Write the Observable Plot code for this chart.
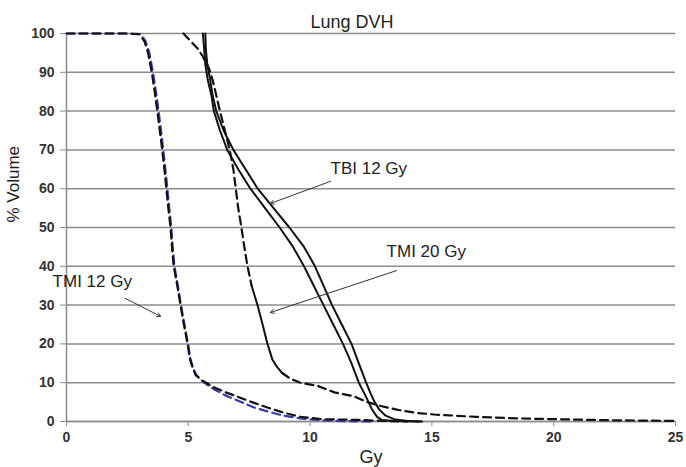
<!DOCTYPE html>
<html>
<head>
<meta charset="utf-8">
<script src="https://cdn.jsdelivr.net/npm/d3@7"></script>
<script src="https://cdn.jsdelivr.net/npm/@observablehq/plot@0.6"></script>
<style>
  html, body { margin: 0; padding: 0; background: #fff; }
  #chart svg { display: block; }
</style>
</head>
<body>
<div id="chart"></div>
<script>
// Dose (Gy) vs % volume
const tbiA = [[5.6,100],[5.65,96],[5.7,92],[5.8,88],[5.95,84],[6.05,80],[6.3,75],[6.6,70],[7.05,65],[7.55,60],[8.15,55],[8.75,50],[9.3,45],[9.75,40],[10.15,35],[10.55,30],[10.95,25],[11.35,20],[11.7,15],[12.0,10],[12.25,7],[12.4,5],[12.55,3],[12.75,1.2],[12.95,0.4],[13.5,0.1],[14.5,0]];
const tbiB = [[5.7,100],[5.72,96],[5.78,92],[5.9,88],[6.0,84],[6.15,80],[6.45,75],[6.85,70],[7.35,65],[7.85,60],[8.5,55],[9.15,50],[9.75,45],[10.2,40],[10.55,35],[10.9,30],[11.3,25],[11.7,20],[12.0,15],[12.3,10],[12.5,7],[12.65,5],[12.85,3],[13.1,1.5],[13.5,0.5],[14.0,0.15],[14.6,0]];
const tmi20Top = [[4.8,100],[5.1,98],[5.4,96],[5.6,94],[5.85,91],[6.0,88],[6.15,84],[6.3,80],[6.5,75],[6.7,70],[6.85,65],[6.95,60],[7.05,55],[7.18,50],[7.3,45],[7.43,40],[7.6,35]];
const tmi20Mid = [[7.6,35],[7.84,30],[8.05,25],[8.25,20],[8.45,16],[8.65,14],[8.85,12.5]];
const tmi20Tail = [[8.85,12.5],[9.2,11],[9.6,10],[10.3,9.2],[11.0,7.5],[11.8,6.5],[12.35,5],[12.9,4],[13.6,3],[14.4,2.2],[15.1,1.8],[16.8,1.2],[18.5,0.8],[20,0.6],[22.5,0.3],[25,0.15]];
const tmi12Black = [[0,100],[2.5,100],[3.0,99.8],[3.2,98],[3.35,95],[3.5,90],[3.62,85],[3.73,80],[3.83,75],[3.93,70],[4.02,65],[4.1,60],[4.18,55],[4.27,50],[4.33,45],[4.4,40],[4.55,35],[4.68,30],[4.82,25],[4.97,20],[5.07,16],[5.17,14],[5.3,12],[5.58,10.5],[6.0,9],[6.5,7.6],[7.1,6.2],[7.7,4.8],[8.25,3.6],[8.9,2.3],[9.6,1.2],[10.5,0.6],[12.0,0.4],[13.2,0.1],[14.0,0]];
const tmi12Blue = [[0,100],[2.5,100],[3.05,99.8],[3.25,98],[3.4,95],[3.55,90],[3.67,85],[3.78,80],[3.88,75],[3.97,70],[4.06,65],[4.14,60],[4.22,55],[4.3,50],[4.36,45],[4.43,40],[4.57,35],[4.7,30],[4.84,25],[4.99,20],[5.09,16],[5.19,14],[5.32,12],[5.6,10.3],[6.0,8.5],[6.5,6.8],[7.1,5.2],[7.7,3.6],[8.25,2.6],[8.9,1.5],[9.6,0.8],[10.5,0.3],[11.5,0.1],[12.5,0]];

const xTicks = [0, 5, 10, 15, 20, 25];
const yTicks = [0, 10, 20, 30, 40, 50, 60, 70, 80, 90, 100];

const title = "Lung DVH";
const xLabel = "Gy";
const yLabel = "% Volume";

// annotations
const labels = ["TBI 12 Gy", "TMI 20 Gy", "TMI 12 Gy"];
const labelPos = [[10.84, 65.1], [13.14, 43.8], [-0.57, 36.0]];
const arrows = [[10.84, 61.9, 8.37, 56.2], [13.55, 38.9, 8.37, 28.1], [2.42, 31.7, 3.86, 27.1]];

const notes = labels.map((t, i) => ({t, x: labelPos[i][0], y: labelPos[i][1]}));
const arrowRows = arrows.map(a => ({x1: a[0], y1: a[1], x2: a[2], y2: a[3]}));

const grey = "#8c8c8c";
const dash = "8,5";

const chart = Plot.plot({
  width: 686,
  height: 467,
  marginLeft: 66,
  marginRight: 11,
  marginTop: 33,
  marginBottom: 46,
  style: {fontFamily: "'Liberation Sans', Arial, sans-serif", background: "#fff", color: "#222"},
  x: {domain: [0, 25]},
  y: {domain: [0, 100]},
  marks: [
    Plot.gridY(yTicks, {stroke: grey, strokeOpacity: 1, strokeWidth: 1.5}),
    Plot.ruleX([0], {stroke: grey, strokeWidth: 1.5}),
    Plot.ruleY([0], {stroke: grey, strokeWidth: 1.5}),
    Plot.axisX({ticks: xTicks, tickSize: 5, tickPadding: 6, stroke: grey, fontSize: 14, fontWeight: "bold", fill: "#333", label: null}),
    Plot.axisY({ticks: yTicks, tickSize: 6, tickPadding: 6, stroke: grey, fontSize: 14, fontWeight: "bold", fill: "#333", label: null}),
    Plot.line(tmi12Blue, {x: d => d[0], y: d => d[1], stroke: "#3a3aa6", strokeWidth: 2.2, strokeDasharray: dash}),
    Plot.line(tmi12Black, {x: d => d[0], y: d => d[1], stroke: "#111", strokeWidth: 2.2, strokeDasharray: dash}),
    Plot.line(tmi20Top, {x: d => d[0], y: d => d[1], stroke: "#111", strokeWidth: 2.2, strokeDasharray: dash}),
    Plot.line(tmi20Mid, {x: d => d[0], y: d => d[1], stroke: "#111", strokeWidth: 2}),
    Plot.line(tmi20Tail, {x: d => d[0], y: d => d[1], stroke: "#111", strokeWidth: 2.2, strokeDasharray: dash}),
    Plot.line(tbiA, {x: d => d[0], y: d => d[1], stroke: "#111", strokeWidth: 2}),
    Plot.line(tbiB, {x: d => d[0], y: d => d[1], stroke: "#111", strokeWidth: 2}),
    Plot.arrow(arrowRows, {x1: "x1", y1: "y1", x2: "x2", y2: "y2", stroke: "#333", strokeWidth: 1, headLength: 6}),
    Plot.text(notes, {x: "x", y: "y", text: "t", textAnchor: "start", lineAnchor: "middle", fontSize: 17, fill: "#222"}),
    Plot.text([title], {frameAnchor: "top", dx: -19, dy: -18, fontSize: 18, fill: "#222"}),
    Plot.text([xLabel], {frameAnchor: "bottom", dy: 36, fontSize: 18, fill: "#222", lineAnchor: "middle"}),
    Plot.text([yLabel], {frameAnchor: "left", rotate: -90, dx: -53, dy: -5, fontSize: 17, fill: "#222", lineAnchor: "middle"})
  ]
});
document.getElementById("chart").appendChild(chart);
</script>
</body>
</html>
